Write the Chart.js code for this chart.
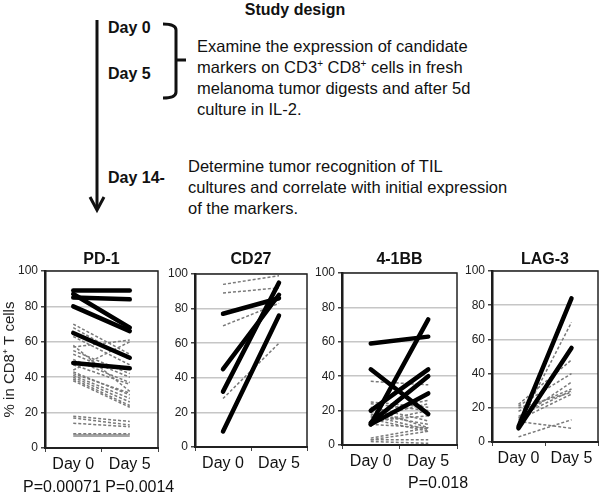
<!DOCTYPE html>
<html>
<head>
<meta charset="utf-8">
<script src="https://cdn.jsdelivr.net/npm/chart.js@4.4.0/dist/chart.umd.min.js"></script>
<style>
  body { margin: 0; background: #fff; font-family: "Liberation Sans", Arial, sans-serif; color: #111; }
  #page { position: relative; width: 601px; height: 495px; overflow: hidden; }
  .t { position: absolute; white-space: nowrap; line-height: 18px; }
  .txt { font-size: 16.5px; line-height: 21px; }
  .txt sup { font-size: 10px; line-height: 0; }
  .day { font-weight: bold; font-size: 16px; }
  canvas { position: absolute; }
</style>
</head>
<body>
<div id="page">
  <div class="t" style="left:0;width:590px;top:1px;text-align:center;font-weight:bold;font-size:16px">Study design</div>
  <svg style="position:absolute;left:0;top:0" width="601" height="230">
    <line x1="97" y1="20" x2="97" y2="209" stroke="#111" stroke-width="3"/>
    <polyline points="90,197 97,210 104,197" fill="none" stroke="#111" stroke-width="3"/>
    <path d="M163,24 Q176,24 176,30 L176,92 Q176,98 163,98 M176,60 L186,60" fill="none" stroke="#111" stroke-width="3"/>
  </svg>
  <div class="t day" style="left:108px;top:19px">Day 0</div>
  <div class="t day" style="left:108px;top:65px">Day 5</div>
  <div class="t day" style="left:108px;top:169px">Day 14-</div>
  <div class="t txt" style="left:197px;top:36px">Examine the expression of candidate<br>markers on CD3<sup>+</sup> CD8<sup>+</sup> cells in fresh<br>melanoma tumor digests and after 5d<br>culture in IL-2.</div>
  <div class="t txt" style="left:188px;top:156px">Determine tumor recognition of TIL<br>cultures and correlate with initial expression<br>of the markers.</div>

  <canvas id="pd1" width="160" height="237" style="left:0;top:243px"></canvas>
  <canvas id="cd27" width="150" height="237" style="left:160px;top:243px"></canvas>
  <canvas id="bb" width="150" height="237" style="left:310px;top:243px"></canvas>
  <canvas id="lag3" width="141" height="237" style="left:460px;top:243px"></canvas>

  <div class="t" style="left:23px;top:478px;font-size:16px">P=0.00071 P=0.0014</div>
  <div class="t" style="left:408px;top:474px;font-size:16px">P=0.018</div>
</div>

<script>
const days = ['Day 0', 'Day 5'];

// PD-1
const pd1ThickDay0 = [89, 85, 87, 80, 65, 48];
const pd1ThickDay5 = [89, 84, 68, 66, 51, 45];
const pd1Day0 = [70, 68, 63, 58, 57, 55, 53, 50, 47, 44, 43, 42, 41, 40, 39, 38, 18, 17, 14, 8];
const pd1Day5 = [53, 50, 47, 32, 61, 42, 40, 37, 36, 60, 30, 31, 28, 26, 24, 23, 15, 13, 12, 8];
const pd1GreyDay0 = [7];
const pd1GreyDay5 = [7];

// CD27
const cd27ThickDay0 = [77, 45, 32, 9];
const cd27ThickDay5 = [86, 88, 95, 76];
const cd27Day0 = [94, 89, 70, 28];
const cd27Day5 = [99, 92, 83, 60];

// 4-1BB
const bbThickDay0 = [59, 44, 12, 20, 13, 12];
const bbThickDay5 = [63, 18, 73, 44, 40, 30];
const bbDay0 = [37, 25, 24, 22, 21, 19, 18, 17, 16, 15, 14, 13, 12, 4, 3, 3, 2];
const bbDay5 = [35, 22, 20, 14, 10, 26, 12, 9, 24, 8, 17, 20, 10, 10, 8, 3, 1];

// LAG-3
const lagThickDay0 = [9, 8];
const lagThickDay5 = [84, 55];
const lagDay0 = [10, 22, 21, 14, 18, 15, 13, 20, 12, 3];
const lagDay5 = [70, 48, 40, 35, 31, 30, 28, 29, 8, 13];

const yTicks = [0, 20, 40, 60, 80, 100];

// box around the plot area
const boxBorder = {
    id: 'boxBorder',
    beforeDatasetsDraw(chart) {
        const { ctx, chartArea: a } = chart;
        ctx.save();
        ctx.strokeStyle = '#222';
        ctx.lineWidth = 1.5;
        ctx.strokeRect(a.left, a.top, a.right - a.left, a.bottom - a.top);
        ctx.restore();
    }
};

function pairs(d0, d5, style) {
    return d0.map((v, i) => Object.assign({ data: [v, d5[i]] }, style));
}

const thick = { borderColor: '#000', borderWidth: 4.5, borderCapStyle: 'round', order: 0 };
const dashed = { borderColor: '#7a7a7a', borderWidth: 1.5, borderDash: [3, 2], order: 1 };
const greySolid = { borderColor: '#a5a5a5', borderWidth: 3, order: 1 };

function panel(id, title, datasets, cfg) {
    new Chart(document.getElementById(id), {
        type: 'line',
        data: { labels: days, datasets: datasets },
        options: {
            responsive: false,
            animation: false,
            elements: { point: { radius: 0 }, line: { tension: 0 } },
            layout: { padding: { left: 0, top: 0, bottom: 0, right: cfg.padRight } },
            plugins: {
                legend: { display: false },
                tooltip: { enabled: false },
                title: {
                    display: true, text: title, fullSize: false, color: '#111',
                    font: { family: 'Liberation Sans, Arial', size: 16, weight: 'bold' },
                    padding: { top: 7.4, bottom: cfg.titleBottom }
                }
            },
            scales: {
                x: {
                    offset: true,
                    grid: { offset: true, drawOnChartArea: false, tickLength: 4, tickColor: '#444' },
                    border: { color: '#222', width: 2 },
                    ticks: { color: '#111', padding: 3, font: { family: 'Liberation Sans, Arial', size: 16 } },
                    afterFit: s => { s.height = cfg.xHeight; }
                },
                y: {
                    min: 0, max: 100,
                    afterBuildTicks: s => { s.ticks = yTicks.map(v => ({ value: v })); },
                    grid: { color: '#c6c6c6', lineWidth: 1.5, tickLength: 4, tickColor: '#444' },
                    border: { color: '#111', width: 2.5 },
                    ticks: { color: '#222', padding: 3, font: { family: 'Liberation Sans, Arial', size: 12 } },
                    title: {
                        display: !!cfg.yTitle, text: cfg.yTitle || '', color: '#222',
                        font: { family: 'Liberation Sans, Arial', size: 15 },
                        padding: { top: 1, bottom: 0 }
                    },
                    afterFit: s => { s.width = cfg.yWidth; }
                }
            }
        },
        plugins: [boxBorder]
    });
}

panel('pd1', 'PD-1',
    pairs(pd1ThickDay0, pd1ThickDay5, thick)
        .concat(pairs(pd1Day0, pd1Day5, dashed))
        .concat(pairs(pd1GreyDay0, pd1GreyDay5, greySolid)),
    { padRight: 2, yWidth: 45, titleBottom: 1.4, xHeight: 32, yTitle: '% in CD8\u207A T cells' });

panel('cd27', 'CD27',
    pairs(cd27ThickDay0, cd27ThickDay5, thick).concat(pairs(cd27Day0, cd27Day5, dashed)),
    { padRight: 3, yWidth: 35, titleBottom: 4.4, xHeight: 33 });

panel('bb', '4-1BB',
    pairs(bbThickDay0, bbThickDay5, thick).concat(pairs(bbDay0, bbDay5, dashed)),
    { padRight: 3, yWidth: 32, titleBottom: 3.4, xHeight: 35 });

panel('lag3', 'LAG-3',
    pairs(lagThickDay0, lagThickDay5, thick).concat(pairs(lagDay0, lagDay5, dashed)),
    { padRight: 3, yWidth: 32, titleBottom: 1.4, xHeight: 38 });
</script>
</body>
</html>
